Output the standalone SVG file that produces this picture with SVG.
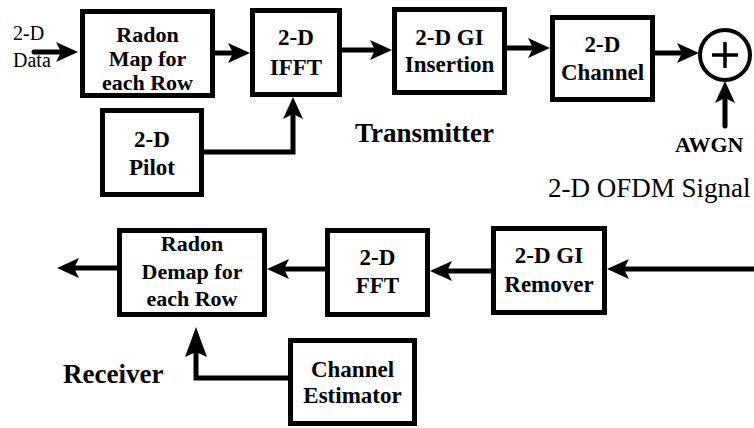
<svg xmlns="http://www.w3.org/2000/svg" width="754" height="428" viewBox="0 0 754 428">
<style>
.box{fill:#fff;stroke:#000;stroke-width:5}
.lbl{font-family:"Liberation Serif","Times New Roman",serif;font-weight:bold;font-size:23px;text-anchor:middle;fill:#000}
.sm{font-size:22px}
.txt{font-family:"Liberation Serif","Times New Roman",serif;fill:#000}
.b{font-weight:bold}
.con{fill:none;stroke:#000;stroke-width:5;stroke-linecap:round;stroke-linejoin:miter}
</style>
<defs>
<marker id="ah" markerUnits="userSpaceOnUse" markerWidth="22" markerHeight="20" refX="12" refY="10" orient="auto" overflow="visible">
<path d="M0,0 L22,10 L0,20 L5,10 Z" fill="#000"/>
</marker>
<marker id="ah2" markerUnits="userSpaceOnUse" markerWidth="30" markerHeight="22" refX="20" refY="11" orient="auto" overflow="visible">
<path d="M0,0 L30,11 L0,22 L5,11 Z" fill="#000"/>
</marker>
</defs>
<rect width="754" height="428" fill="#fff"/>

<g id="connectors">
<path class="con" d="M34,52 H68" marker-end="url(#ah)"/>
<path class="con" d="M207,53 H240" marker-end="url(#ah)"/>
<path class="con" d="M204,152 H293 V107" marker-end="url(#ah)"/>
<path class="con" d="M342,50 H382" marker-end="url(#ah)"/>
<path class="con" d="M507,48 H540" marker-end="url(#ah)"/>
<path class="con" d="M655,53 H689" marker-end="url(#ah)"/>
<path class="con" d="M725,126 V91" marker-end="url(#ah)"/>
<path class="con" d="M756,269 H617" marker-end="url(#ah)"/>
<path class="con" d="M491,271 H440" marker-end="url(#ah)"/>
<path class="con" d="M328,269 H277" marker-end="url(#ah)"/>
<path class="con" d="M120,268 H67" marker-end="url(#ah)"/>
<path class="con" d="M288,378 H196 V337" marker-end="url(#ah2)"/>
</g>

<g id="map">
<rect class="box" x="82.5" y="11.5" width="130" height="84"/>
<text class="lbl sm" x="147.5" y="42">Radon</text>
<text class="lbl sm" x="147.5" y="66">Map for</text>
<text class="lbl sm" x="147.5" y="90">each Row</text>
</g>
<g id="ifft">
<rect class="box" x="252.5" y="10.5" width="87" height="84"/>
<text class="lbl" x="296" y="45">2-D</text>
<text class="lbl" x="296" y="75">IFFT</text>
</g>
<g id="gi-insertion">
<rect class="box" x="394.5" y="9.5" width="110" height="83"/>
<text class="lbl" x="449.5" y="45">2-D GI</text>
<text class="lbl" x="449.5" y="72">Insertion</text>
</g>
<g id="channel">
<rect class="box" x="552.5" y="17.5" width="100" height="82"/>
<text class="lbl" x="602.5" y="52">2-D</text>
<text class="lbl" x="602.5" y="80">Channel</text>
</g>
<g id="adder">
<circle cx="725" cy="55" r="25" fill="#fff" stroke="#000" stroke-width="4"/>
<path d="M712,55 H738 M725,42 V68" stroke="#000" stroke-width="3.5" fill="none"/>
</g>
<g id="pilot">
<rect class="box" x="102.5" y="110.5" width="99" height="84"/>
<text class="lbl" x="152" y="147">2-D</text>
<text class="lbl" x="152" y="175">Pilot</text>
</g>
<g id="demap">
<rect class="box" x="119.5" y="230.5" width="145" height="84"/>
<text class="lbl sm" x="192" y="251">Radon</text>
<text class="lbl sm" x="192" y="279">Demap for</text>
<text class="lbl sm" x="192" y="306">each Row</text>
</g>
<g id="fft">
<rect class="box" x="327.5" y="230.5" width="100" height="84"/>
<text class="lbl" x="377.5" y="265">2-D</text>
<text class="lbl" x="377.5" y="293">FFT</text>
</g>
<g id="gi-remover">
<rect class="box" x="493.5" y="228.5" width="111" height="84"/>
<text class="lbl" x="549" y="263">2-D GI</text>
<text class="lbl" x="549" y="292">Remover</text>
</g>
<g id="estimator">
<rect class="box" x="290.5" y="340.5" width="124" height="83"/>
<text class="lbl" x="352.5" y="377">Channel</text>
<text class="lbl" x="352.5" y="403">Estimator</text>
</g>

<g id="labels">
<text class="txt" x="13" y="40" font-size="20">2-D</text>
<text class="txt" x="13" y="67" font-size="20">Data</text>
<text class="txt b" x="355" y="142" font-size="27">Transmitter</text>
<text class="txt b" x="675" y="152" font-size="22">AWGN</text>
<text class="txt" x="548" y="197" font-size="27">2-D OFDM Signal</text>
<text class="txt b" x="63" y="383" font-size="27">Receiver</text>
</g>
</svg>
